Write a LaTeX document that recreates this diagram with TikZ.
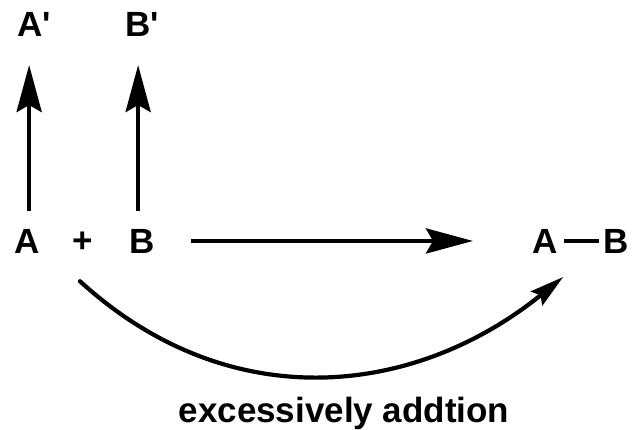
\documentclass[tikz,border=0pt]{standalone}
\usepackage{fontspec}
\setmainfont{Liberation Sans}[Ligatures=TeXOff]
\usetikzlibrary{arrows.meta,calc}
\begin{document}
\begin{tikzpicture}[x=1pt,y=-1pt,
  lab/.style={inner sep=0pt,outer sep=0pt,anchor=base west,font=\fontsize{35}{42}\selectfont\bfseries},
  arr/.style={line width=4.5pt,-{Stealth[length=47pt,width=25pt,inset=7pt]}},
  carr/.style={line width=4.2pt,line cap=round,-{Stealth[length=34pt,width=18pt,inset=5pt]}},
  bond/.style={line width=4.5pt}]
\useasboundingbox (0,0) rectangle (636,430);
\node[lab] (Ap) at (17,37) {A'};
\node[lab] (Bp) at (125,37) {B'};
\node[lab] (A) at (14,253) {A};
\node[lab,anchor=center] (plus) at (83,242) {+};
\node[lab] (B) at (129,253) {B};
\node[lab] (PA) at (532,253) {A};
\node[lab] (PB) at (603,253) {B};
\node[lab,anchor=base] (lbl) at (344,422) {excessively addtion};
\coordinate (a0) at ($(A.north)+(2.5,-18)$);
\coordinate (a1) at (a0 |- Ap.south);
\draw[arr,shorten >=28pt] (a0) -- (a1);
\coordinate (b0) at ($(B.north)+(-3.5,-18)$);
\coordinate (b1) at (b0 |- Bp.south);
\draw[arr,shorten >=28pt] (b0) -- (b1);
\draw[arr,shorten <=37pt,shorten >=59pt] (B.east) -- (B.east -| PA.west);
\draw[bond,shorten <=7pt,shorten >=4pt] (PA.east) -- (PB.west);
\coordinate (c0) at ($(plus.south)+(-3,29)$);
\coordinate (c1) at ($(PA.south)+(18.5,24)$);
\draw[carr] (c0) .. controls (230,418) and (415,397) .. (c1);
\end{tikzpicture}
\end{document}
